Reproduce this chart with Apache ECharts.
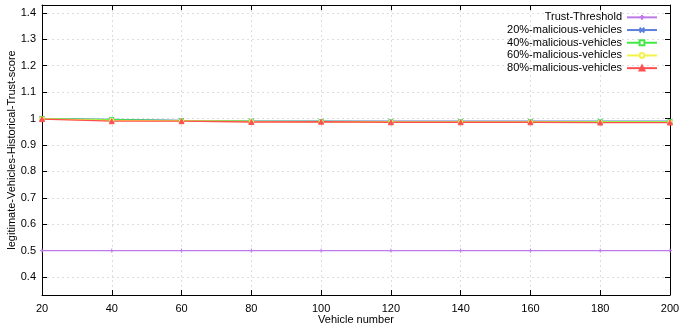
<!DOCTYPE html>
<html><head><meta charset="utf-8">
<script src="https://cdn.jsdelivr.net/npm/echarts@6/dist/echarts.min.js"></script>
<style>html,body{margin:0;padding:0;background:#fff}#c{width:679px;height:330px}</style>
</head><body><div id="c"></div>
<script>
const vehicles = [20,40,60,80,100,120,140,160,180,200];
const trustThreshold = [0.5,0.5,0.5,0.5,0.5,0.5,0.5,0.5,0.5,0.5];
const mal20 = [1.0,0.997,0.993,0.991,0.990,0.990,0.990,0.990,0.990,0.990];
const mal40 = [1.0,0.996,0.992,0.990,0.989,0.988,0.988,0.988,0.988,0.988];
const mal60 = [0.999,0.993,0.991,0.989,0.988,0.987,0.987,0.987,0.986,0.986];
const mal80 = [0.998,0.990,0.990,0.987,0.988,0.986,0.986,0.986,0.985,0.985];
const yTicks = [0.4,0.5,0.6,0.7,0.8,0.9,1,1.1,1.2,1.3,1.4];
const xTicks = [20,40,60,80,100,120,140,160,180,200];

const font = 'Liberation Sans';
function pts(arr){ return vehicles.map((v,i)=>[v,arr[i]]); }
function mk(name, arr, color, symbol, size, empty){
  return {name, type:'line', data:pts(arr), symbol, symbolSize:size,
    lineStyle:{color, width:1.3}, itemStyle:{color: empty?'#fff':color, borderColor:color, borderWidth:1},
    emphasis:{disabled:true}};
}
const chart = echarts.init(document.getElementById('c'));
chart.setOption({
  animation:false,
  grid:{left:42, right:9, top:5, bottom:35, outerBoundsMode:'none'},
  legend:{right:16, top:6, orient:'vertical', align:'right', itemGap:0, itemWidth:30, itemHeight:6,
    textStyle:{fontFamily:font, fontSize:11, color:'#000', lineHeight:12.7, padding:[0,0,0,0]},
    data:['Trust-Threshold','20%-malicious-vehicles','40%-malicious-vehicles','60%-malicious-vehicles','80%-malicious-vehicles']},
  xAxis:[{type:'value', min:20, max:200, interval:20,
    name:'Vehicle number', nameLocation:'middle', nameGap:19, nameMoveOverlap:false,
    nameTextStyle:{fontFamily:font, fontSize:11, color:'#000'},
    axisLine:{lineStyle:{color:'#000', width:1}}, axisTick:{inside:true, length:5, lineStyle:{color:'#000'}},
    axisLabel:{fontFamily:font, fontSize:11, color:'#000', margin:8},
    splitLine:{show:true, lineStyle:{color:'#ddd', type:[2,3]}}},
   {type:'value', position:'top', min:20, max:200, interval:20,
    axisLine:{show:true, lineStyle:{color:'#000'}}, axisTick:{inside:true, length:5, lineStyle:{color:'#000'}},
    axisLabel:{show:false}, splitLine:{show:false}}],
  yAxis:[{type:'value', min:0.332, max:1.43,
    name:'legitimate-Vehicles-Historical-Trust-score', nameLocation:'middle', nameGap:25, nameMoveOverlap:false,
    nameTextStyle:{fontFamily:font, fontSize:11, color:'#000'},
    axisLine:{show:true, lineStyle:{color:'#000'}},
    axisTick:{show:true, inside:true, length:5, customValues:yTicks, lineStyle:{color:'#000'}},
    axisLabel:{fontFamily:font, fontSize:11, color:'#000', customValues:yTicks, margin:6, formatter:v=>String(+v.toFixed(1))},
    splitLine:{show:true, lineStyle:{color:'#ddd', type:[2,3]}}},
   {type:'value', position:'right', min:0.332, max:1.43,
    axisLine:{show:true, lineStyle:{color:'#000'}},
    axisTick:{show:true, inside:true, length:5, customValues:yTicks, lineStyle:{color:'#000'}},
    axisLabel:{show:false}, splitLine:{show:false}}],
  series:[
    mk('Trust-Threshold', trustThreshold, '#bf7ae8', 'path://M0,-1L0,1M-1,0L1,0', 4, false),
    mk('20%-malicious-vehicles', mal20, '#5b7fdc', 'path://M-1,-1L1,1M-1,1L1,-1', 5, false),
    mk('40%-malicious-vehicles', mal40, '#44e844', 'rect', 4, true),
    mk('60%-malicious-vehicles', mal60, '#f2f24a', 'circle', 4, true),
    mk('80%-malicious-vehicles', mal80, '#ff5050', 'triangle', 5, false)
  ]
});
</script></body></html>
